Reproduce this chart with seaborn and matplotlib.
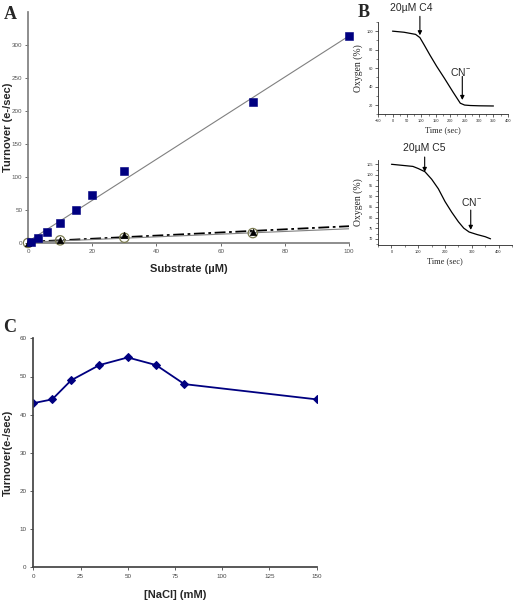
import matplotlib
matplotlib.use("Agg")
import matplotlib.pyplot as plt
from matplotlib.ticker import MultipleLocator
import pandas as pd
import seaborn as sns

# Panel A - turnover vs substrate
sub_x = [1, 3, 6, 10, 15, 20, 30, 70, 100]
sub_y = [2, 7, 16, 31, 50, 73, 109, 213, 314]
tri_x = [0, 10, 30, 70]
tri_y = [0, 4, 12, 17]
circ_x = [0, 10, 30, 70]
circ_y = [0, 4, 8, 15]

# Panel B - oxygen traces
c4_time = [0, 40, 80, 95, 110, 130, 153, 180, 210, 235, 250, 270, 300, 350]
c4_oxy = [100, 98.8, 96.5, 93, 85, 74, 62, 49, 34, 22, 20, 19.5, 19.2, 19]
c5_time = [0, 40, 80, 100, 125, 150, 175, 200, 225, 250, 270, 290, 320, 350, 370]
c5_oxy = [105, 104.5, 104, 103, 101.5, 98, 93.5, 87.5, 82.5, 78, 75, 73.2, 72, 71, 70]

# Panel C - salt dependence
nacl = [0, 10, 20, 35, 50, 65, 80, 150]
turnover = [43, 44, 49, 53, 55, 53, 48, 44]

sns.set_theme(style="ticks")
plt.rcParams['font.family'] = ['Liberation Sans', 'DejaVu Sans']

fig = plt.figure(figsize=(5.13, 6), dpi=100)
navy = "#000080"
gray = "#808080"

# ---------- A ----------
axA = fig.add_axes([0.0546, 0.595, 0.626, 0.385])
axA.set_xlim(0, 100)
axA.set_ylim(0, 350)
sns.regplot(x=sub_x, y=sub_y, ax=axA, ci=None, truncate=False, scatter=False,
            line_kws=dict(color=gray, lw=0.8))
sns.regplot(x=tri_x, y=tri_y, ax=axA, ci=None, truncate=False, scatter=False,
            line_kws=dict(color="black", lw=1.3, dashes=(6, 2, 1.5, 2)))
sns.regplot(x=circ_x, y=circ_y, ax=axA, ci=None, truncate=False, scatter=False,
            line_kws=dict(color=gray, lw=0.8))
sns.scatterplot(x=circ_x, y=circ_y, ax=axA, marker="o", s=45, facecolor="none",
                edgecolor="#7a7a50", linewidth=0.9, clip_on=False, zorder=4)
sns.scatterplot(x=tri_x, y=tri_y, ax=axA, marker="^", s=22, color="black",
                edgecolor="black", clip_on=False, zorder=5)
sns.scatterplot(x=sub_x, y=sub_y, ax=axA, marker="s", s=26, color=navy,
                edgecolor=navy, clip_on=False, zorder=5)
axA.set_xticks(range(0, 101, 20))
axA.set_yticks(range(0, 301, 50))
axA.set_xlabel("Substrate (\u00b5M)", fontsize=8, fontweight="bold")
axA.set_ylabel("Turnover (e-/sec)", fontsize=8, fontweight="bold")
axA.xaxis.set_label_coords(0.5, -0.09)
axA.yaxis.set_label_coords(-0.046, 0.5)
sns.despine(ax=axA)
for s in ["left", "bottom"]:
    axA.spines[s].set_color(gray)
axA.tick_params(labelsize=4.5, length=2, width=0.6, colors="#555555", pad=2)

# ---------- B ----------
def oxygen_axes(rect, t, o2, xlim, ylim, xmaj, ymaj):
    ax = fig.add_axes(rect)
    df = pd.DataFrame({"t": t, "o2": o2})
    sns.lineplot(data=df, x="t", y="o2", ax=ax, color="black", lw=0.9)
    ax.set_xlim(*xlim)
    ax.set_ylim(*ylim)
    ax.xaxis.set_major_locator(MultipleLocator(xmaj))
    ax.xaxis.set_minor_locator(MultipleLocator(xmaj / 2))
    ax.yaxis.set_major_locator(MultipleLocator(ymaj))
    ax.yaxis.set_minor_locator(MultipleLocator(ymaj / 2))
    ax.tick_params(which="major", labelsize=2.8, length=2, width=0.5, pad=1.5)
    ax.tick_params(which="minor", length=1.2, width=0.4)
    sns.despine(ax=ax)
    for s in ["left", "bottom"]:
        ax.spines[s].set_linewidth(0.6)
    ax.set_xlabel("Time (sec)", family="Liberation Serif", fontsize=6, labelpad=2)
    ax.set_ylabel("Oxygen (%)", family="Liberation Serif", fontsize=7, labelpad=3)
    return ax

arrow = dict(arrowstyle="-|>", color="black", lw=0.8, mutation_scale=6,
             shrinkA=0, shrinkB=0)

axB1 = oxygen_axes([0.737, 0.8095, 0.253, 0.154], c4_time, c4_oxy,
                   (-50, 400), (10, 110), 50, 20)
axB1.text(64, 125, "20\u00b5M C4", fontsize=7.5, ha="center", va="center", clip_on=False)
axB1.annotate("", xy=(95, 95.5), xytext=(95, 116), annotation_clip=False, arrowprops=arrow)
axB1.text(234, 56, r"CN$^{\mathregular{-}}$", fontsize=7.5, ha="center", va="center")
axB1.annotate("", xy=(242, 25.5), xytext=(242, 51), annotation_clip=False, arrowprops=arrow)

axB2 = oxygen_axes([0.737, 0.5913, 0.261, 0.142], c5_time, c5_oxy,
                   (-50, 450), (67, 107), 100, 5)
axB2.text(121, 112.5, "20\u00b5M C5", fontsize=7.5, ha="center", va="center", clip_on=False)
axB2.annotate("", xy=(124, 101.4), xytext=(124, 108.4), annotation_clip=False, arrowprops=arrow)
axB2.text(300, 87.5, r"CN$^{\mathregular{-}}$", fontsize=7.5, ha="center", va="center")
axB2.annotate("", xy=(296, 74.2), xytext=(296, 83.5), annotation_clip=False, arrowprops=arrow)

# ---------- C ----------
axC = fig.add_axes([0.065, 0.055, 0.552, 0.381])
sns.lineplot(x=nacl, y=turnover, ax=axC, color=navy, lw=1.3, marker="D",
             markersize=4.5, markeredgecolor=navy)
axC.set_xlim(0, 150)
axC.set_ylim(0, 60)
axC.set_xticks(range(0, 151, 25))
axC.set_yticks(range(0, 61, 10))
axC.set_xlabel("[NaCl] (mM)", fontsize=8, fontweight="bold")
axC.set_ylabel("Turnover(e-/sec)", fontsize=8, fontweight="bold")
axC.xaxis.set_label_coords(0.5, -0.1)
axC.yaxis.set_label_coords(-0.072, 0.5)
sns.despine(ax=axC)
for s in ["left", "bottom"]:
    axC.spines[s].set_color("#444444")
axC.tick_params(labelsize=4.5, length=2, width=0.6, colors="#444444", pad=3)

# panel letters
for letter, x, y in [("A", 0.008, 0.99), ("B", 0.698, 0.993), ("C", 0.006, 0.468)]:
    fig.text(x, y, letter, family="Liberation Serif", fontsize=13,
             fontweight="bold", ha="left", va="top")

fig.savefig("out.png", dpi=100)
